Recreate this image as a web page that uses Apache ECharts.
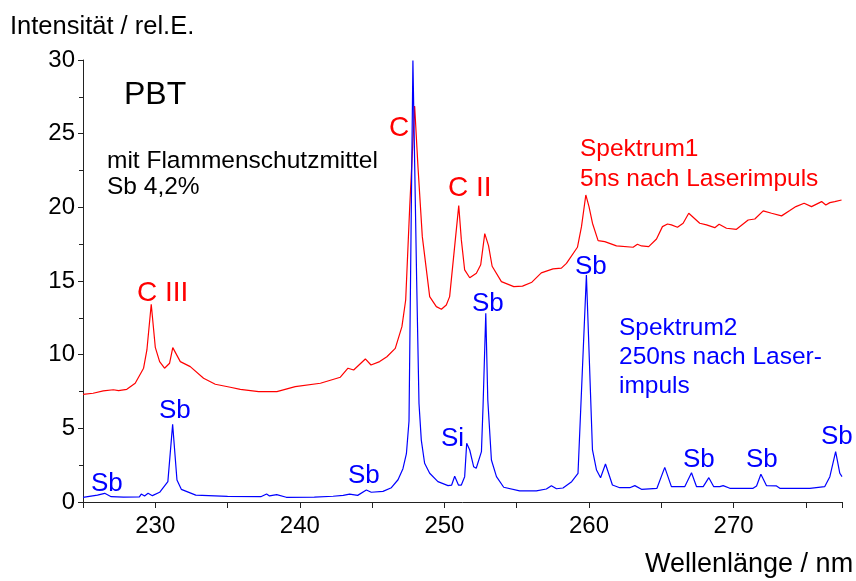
<!DOCTYPE html>
<html>
<head>
<meta charset="utf-8">
<script src="https://cdn.jsdelivr.net/npm/echarts@6/dist/echarts.min.js"></script>
<style>
html,body{margin:0;padding:0;background:#fff;}
#chart{width:856px;height:581px;}
</style>
</head>
<body>
<div id="chart"></div>
<script>
// Spektrum1 (5 ns nach Laserimpuls) - red
var spek1X = [225.0,225.7,226.4,227.1,227.46,228.03,228.61,229.19,229.42,229.72,230.0,230.3,230.64,230.99,231.21,231.73,232.42,233.34,234.15,235.19,235.88,237.15,238.41,239.68,241.42,242.8,243.33,243.72,244.53,244.92,245.52,246.02,246.6,247.06,247.32,247.6,247.94,248.17,248.47,248.98,249.44,249.79,250.13,250.36,250.99,251.17,251.4,251.75,252.21,252.51,252.79,253.05,253.3,253.94,254.8,255.4,256.05,256.7,257.51,258.09,258.44,259.2,259.48,259.78,260.0,260.24,260.63,261.09,261.9,263.05,263.35,263.63,264.13,264.67,265.08,265.43,265.7,266.12,266.51,266.9,267.66,268.13,268.7,269.0,269.51,270.2,271.01,271.47,272.05,272.63,273.32,273.89,274.31,274.88,275.39,276.09,276.38,276.66,277.0,277.47];
var spek1Y = [7.3,7.38,7.54,7.62,7.56,7.65,8.06,9.08,10.32,13.42,10.5,9.53,9.08,9.42,10.48,9.53,9.19,8.4,7.99,7.79,7.65,7.49,7.49,7.83,8.06,8.47,9.08,8.96,9.71,9.3,9.53,9.86,10.43,11.9,13.71,20.05,26.88,22.76,18.01,13.94,13.26,13.08,13.37,13.94,20.12,17.79,15.75,15.22,15.53,16.1,18.22,17.4,16.0,14.96,14.62,14.65,14.92,15.55,15.82,15.87,16.2,17.29,18.69,20.84,20.05,18.92,17.74,17.67,17.38,17.29,17.49,17.38,17.33,17.85,18.69,18.87,18.81,18.65,18.92,19.6,18.92,18.81,18.62,18.85,18.58,18.51,19.14,19.21,19.76,19.6,19.42,19.78,20.05,20.28,20.05,20.39,20.16,20.32,20.39,20.5];

// Spektrum2 (250 ns nach Laserimpuls) - blue
var spek2X = [225.0,226.0,226.5,226.95,227.8,228.9,229.03,229.26,229.5,229.8,230.3,230.87,231.2,231.5,231.8,232.8,235.0,237.3,237.7,237.9,238.4,239.06,241.0,242.3,243.0,243.44,244.0,244.6,244.94,245.75,246.33,246.79,247.13,247.37,247.55,247.82,248.08,248.24,248.4,248.63,248.98,249.55,250.25,250.5,250.71,250.97,251.17,251.4,251.54,251.75,252.02,252.2,252.56,252.67,252.86,253.0,253.25,253.6,254.1,255.2,256.36,257.05,257.4,257.75,258.2,258.8,259.24,259.82,260.24,260.52,260.8,261.14,261.62,262.13,262.82,263.17,263.63,264.7,265.24,265.7,266.62,267.09,267.44,267.9,268.29,268.63,269.05,269.28,269.74,271.35,271.59,271.89,272.28,272.97,273.2,275.28,276.3,276.66,277.06,277.35,277.5];
var spek2Y = [0.32,0.47,0.59,0.36,0.33,0.35,0.54,0.41,0.59,0.43,0.66,1.38,5.27,1.49,0.86,0.47,0.38,0.36,0.54,0.41,0.5,0.32,0.33,0.39,0.45,0.54,0.45,0.81,0.66,0.72,0.97,1.51,2.26,3.28,5.5,29.96,15.0,6.7,4.2,2.63,1.95,1.38,1.11,1.15,1.75,1.15,1.15,1.72,3.98,3.53,2.4,2.29,3.42,6.47,12.81,6.92,2.85,1.72,1.0,0.75,0.75,0.88,1.11,0.9,0.95,1.38,1.95,15.41,3.53,2.17,1.65,2.58,1.15,0.97,0.97,1.11,0.86,0.93,2.35,1.04,1.04,1.99,1.04,1.04,1.65,1.04,1.04,1.11,0.93,0.93,1.09,1.88,1.11,1.09,0.93,0.93,1.04,1.72,3.42,1.95,1.72];

var xMin = 225, xMax = 277.5, xStep = 5;
var yMin = 0, yMax = 30, yStep = 5;
var xLabelValues = [230, 240, 250, 260, 270];

function zip(xs, ys) { return xs.map(function (x, i) { return [x, ys[i]]; }); }

var FONT = "'Liberation Sans', Arial, sans-serif";
var chart = echarts.init(document.getElementById('chart'), null, {renderer: 'canvas'});

function txt(text, x, y, size, color, lh) {
  return {
    type: 'text', x: x, y: y, silent: true,
    style: {text: text, fill: color, font: size + 'px ' + FONT, align: 'left', verticalAlign: 'middle', lineHeight: lh || size * 1.2}
  };
}

var option = {
  animation: false,
  backgroundColor: '#fff',
  grid: {left: 83, right: 14, top: 60, bottom: 79, containLabel: false},
  xAxis: {
    type: 'value', min: xMin, max: xMax, interval: xStep,
    axisLine: {show: true, lineStyle: {color: '#222', width: 1}},
    axisTick: {show: true, length: 6, lineStyle: {color: '#222'}},
    splitLine: {show: false},
    axisLabel: {
      margin: 12, color: '#000', fontSize: 24, fontFamily: FONT,
      formatter: function (v) { return xLabelValues.indexOf(v) >= 0 ? String(v) : ''; }
    }
  },
  yAxis: {
    type: 'value', min: yMin, max: yMax, interval: yStep,
    axisLine: {show: true, lineStyle: {color: '#222', width: 1}},
    axisTick: {show: true, length: 5, lineStyle: {color: '#222'}},
    minorTick: {show: true, splitNumber: 2, length: 4, lineStyle: {color: '#222'}},
    splitLine: {show: false},
    axisLabel: {margin: 8, color: '#000', fontSize: 24, fontFamily: FONT}
  },
  series: [
    {
      name: 'Spektrum1', type: 'line', data: zip(spek1X, spek1Y),
      showSymbol: false, symbol: 'none', smooth: false,
      lineStyle: {color: '#ff0000', width: 1.2}, z: 2
    },
    {
      name: 'Spektrum2', type: 'line', data: zip(spek2X, spek2Y),
      showSymbol: false, symbol: 'none', smooth: false,
      lineStyle: {color: '#0000ff', width: 1.2}, z: 3
    }
  ],
  graphic: [
    txt('Intensität / rel.E.', 10, 27, 25.5, '#000'),
    txt('Wellenlänge / nm', 645, 565, 27, '#000'),
    txt('PBT', 124, 95, 32, '#000'),
    txt('mit Flammenschutzmittel\nSb 4,2%', 107, 174, 24.5, '#000', 26.5),
    txt('C', 389, 128, 28, '#ff0000'),
    txt('C II', 448, 188, 28, '#ff0000'),
    txt('C III', 137, 293, 28, '#ff0000'),
    txt('Spektrum1\n5ns nach Laserimpuls', 580, 164, 24.5, '#ff0000', 29.5),
    txt('Spektrum2\n250ns nach Laser-\nimpuls', 619, 357, 24.5, '#0000ff', 29),
    txt('Sb', 91, 484, 26, '#0000ff'),
    txt('Sb', 159, 411, 26, '#0000ff'),
    txt('Sb', 348, 476, 26, '#0000ff'),
    txt('Si', 441, 439, 26, '#0000ff'),
    txt('Sb', 472, 304, 26, '#0000ff'),
    txt('Sb', 575, 267, 26, '#0000ff'),
    txt('Sb', 683, 460, 26, '#0000ff'),
    txt('Sb', 746, 460, 26, '#0000ff'),
    txt('Sb', 821, 437, 26, '#0000ff')
  ]
};
chart.setOption(option);
</script>
</body>
</html>
